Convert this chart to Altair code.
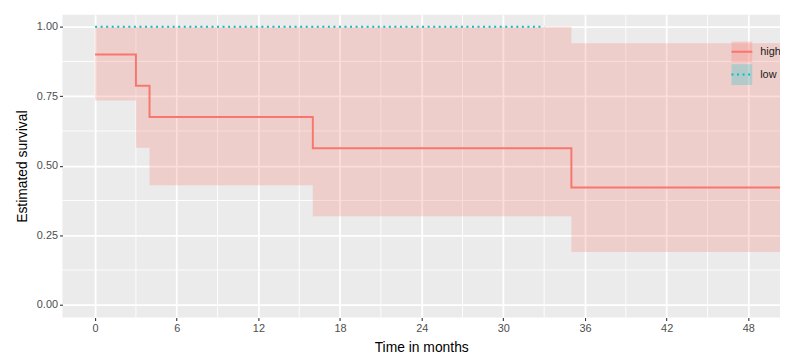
import altair as alt
import pandas as pd

# ---- data ----
groups = ["high", "low"]
group_colors = ["#F8766D", "#00BFC4"]

# Kaplan-Meier step curve, "high" group
high_time = [0, 3, 4, 16, 35, 51]
high_surv = [0.9, 0.7875, 0.675, 0.5625, 0.421875, 0.421875]
high_lower = [0.735, 0.565, 0.43, 0.318, 0.19, 0.19]
high_upper = [1.0, 1.0, 1.0, 1.0, 0.94, 0.94]

# "low" group: no events, all censored up to 33 months
low_time = [0, 33]
low_surv = [1.0, 1.0]
low_lower = [1.0, 1.0]
low_upper = [1.0, 1.0]

x_ticks = [0, 6, 12, 18, 24, 30, 36, 42, 48]
x_minor = [3, 9, 15, 21, 27, 33, 39, 45]
y_ticks = [0.0, 0.25, 0.5, 0.75, 1.0]
y_minor = [0.125, 0.375, 0.625, 0.875]

# ---- tables ----
lines_df = pd.DataFrame({
    "t": high_time + low_time,
    "s": high_surv + low_surv,
    "group": ["high"] * len(high_time) + ["low"] * len(low_time),
})
ribbon_df = pd.DataFrame({
    "t": high_time + low_time,
    "lower": high_lower + low_lower,
    "upper": high_upper + low_upper,
    "group": ["high"] * len(high_time) + ["low"] * len(low_time),
})
vminor_df = pd.DataFrame({"t": x_minor})
hminor_df = pd.DataFrame({"s": y_minor})

FONT = "Liberation Sans"
xs = alt.Scale(domain=[-2.4, 50.33], nice=False, zero=False)
ys = alt.Scale(domain=[-0.046, 1.043], nice=False, zero=False)

x_axis = alt.Axis(
    values=x_ticks, title="Time in months", grid=True, gridColor="white",
    gridWidth=1.8, domain=False, tickColor="#333333", tickSize=3,
    tickWidth=1.1, labelColor="#4D4D4D", labelFontSize=11, labelPadding=2,
    labelFont=FONT, titleFont=FONT, titleFontSize=14,
    titleFontWeight="normal", titleColor="#000000", titlePadding=7,
)
y_axis = alt.Axis(
    values=y_ticks, format=".2f", title="Estimated survival", grid=True,
    gridColor="white", gridWidth=1.8, domain=False, tickColor="#333333",
    tickSize=3, tickWidth=1.1, labelColor="#4D4D4D", labelFontSize=11,
    labelPadding=2, labelFont=FONT, titleFont=FONT, titleFontSize=14,
    titleFontWeight="normal", titleColor="#000000", titlePadding=7,
)

legend_common = dict(
    title=None, orient="none", legendX=675, legendY=26, padding=0,
    symbolSize=441, symbolStrokeWidth=2, rowPadding=0, clipHeight=23,
    labelFontSize=11, labelFont=FONT, labelOffset=7, labelColor="#1A1A1A",
)

vminor = alt.Chart(vminor_df).mark_rule(color="white", strokeWidth=0.9).encode(
    x=alt.X("t:Q", scale=xs, axis=x_axis)
)
hminor = alt.Chart(hminor_df).mark_rule(color="white", strokeWidth=0.9).encode(
    y=alt.Y("s:Q", scale=ys, axis=y_axis)
)

ribbon = alt.Chart(ribbon_df).mark_area(
    interpolate="step-after", opacity=0.25, clip=True
).encode(
    x=alt.X("t:Q", scale=xs, axis=x_axis),
    y=alt.Y("lower:Q", scale=ys, axis=y_axis),
    y2="upper:Q",
    fill=alt.Fill(
        "group:N",
        scale=alt.Scale(range=group_colors),
        legend=alt.Legend(
            symbolType="square", symbolStrokeColor="transparent",
            symbolOpacity=0.25, labelOpacity=0, **legend_common,
        ),
    ),
)

lines = alt.Chart(lines_df).mark_line(
    interpolate="step-after", strokeWidth=2, strokeCap="butt", clip=True
).encode(
    x=alt.X("t:Q", scale=xs, axis=x_axis),
    y=alt.Y("s:Q", scale=ys, axis=y_axis),
    stroke=alt.Stroke(
        "group:N",
        scale=alt.Scale(range=group_colors),
        legend=alt.Legend(symbolType="stroke", **legend_common),
    ),
    strokeDash=alt.StrokeDash(
        "group:N",
        scale=alt.Scale(range=[[1, 0], [2, 3.6]]),
        legend=alt.Legend(symbolType="stroke", **legend_common),
    ),
)

chart = (
    alt.layer(vminor, hminor, ribbon, lines)
    .properties(
        width=725,
        height=306,
        autosize=alt.AutoSizeParams(type="none"),
        padding={"left": 55, "top": 5, "right": 0, "bottom": 36},
        background="white",
    )
    .configure(font=FONT)
    .configure_view(fill="#EBEBEB", strokeWidth=0)
)

chart.save("out.html", embed_options={"renderer": "svg", "actions": False})
